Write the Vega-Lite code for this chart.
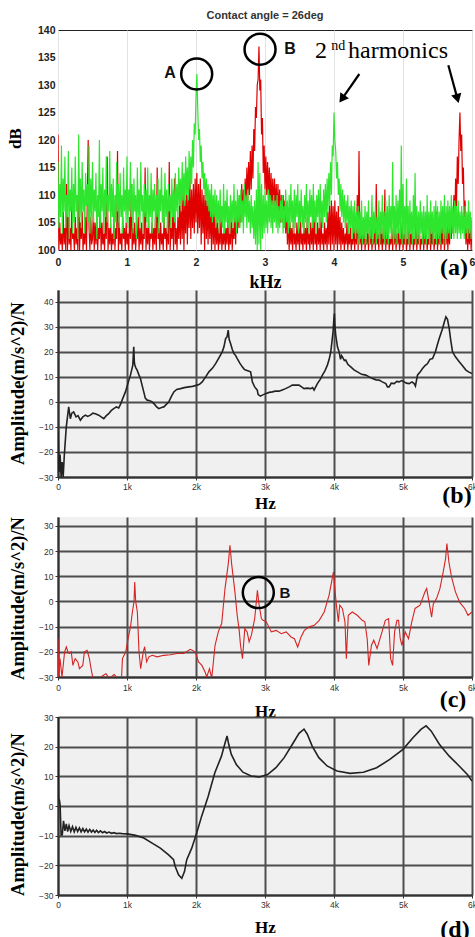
{
"$schema":"https://vega.github.io/schema/vega-lite/v6.json",
"background":"white",
"padding":{"left":5,"top":9,"right":0,"bottom":0},
"bounds":"flush",
"spacing":40,
"config":{"view":{"stroke":null}},
"vconcat":[
{
"width":414,"height":220,
"title":{"text":"Contact angle = 26deg","font":"Liberation Sans","fontSize":11,"fontWeight":"bold","color":"#333","baseline":"bottom","offset":-7},
"view":{"stroke":"#222","strokeWidth":1},
"encoding":{
 "x":{"field":"x","type":"quantitative","scale":{"domain":[0,6],"nice":false},"axis":{"values":[0,1,2,3,4,5,6],"format":"d","title":"kHz","titleFont":"Liberation Serif","titleFontSize":18,"titleFontWeight":"bold","titleColor":"#000","titleY":32,"titleBaseline":"middle","labelFont":"Liberation Sans","labelFontSize":10.5,"labelFontWeight":"bold","labelColor":"#222","labelPadding":7,"ticks":false,"domain":false,"grid":true,"gridColor":"#e3e3e3","labelFlush":false}},
 "y":{"field":"y","type":"quantitative","scale":{"domain":[100,140],"nice":false},"axis":{"values":[100,105,110,115,120,125,130,135,140],"title":"dB","titleFont":"Liberation Serif","titleFontSize":17,"titleFontWeight":"bold","titleColor":"#000","titleX":-43,"titleY":108,"titleAngle":270,"titleAlign":"center","titleBaseline":"middle","labelFont":"Liberation Sans","labelFontSize":10.5,"labelFontWeight":"bold","labelColor":"#222","labelPadding":3,"ticks":false,"domain":false,"grid":false}}
},
"layer":[
{"data":{"name":"spec"},"transform":[{"fold":["r"],"as":["k","y"]}],"mark":{"type":"line","color":"#e00000","strokeWidth":1.2,"clip":true},"encoding":{}},
{"data":{"name":"spec"},"transform":[{"fold":["g"],"as":["k","y"]}],"mark":{"type":"line","color":"#2fe62f","strokeWidth":1.2,"clip":true},"encoding":{}},
{"data":{"values":[{"x":2.01,"y":132},{"x":2.928,"y":136.5}]},"mark":{"type":"point","shape":"circle","filled":false,"size":960,"stroke":"#000","strokeWidth":2.5,"opacity":1},"encoding":{}},
{"data":{"values":[{"x":1.623,"y":132.2,"t":"A"},{"x":3.362,"y":136.5,"t":"B"}]},"mark":{"type":"text","font":"Liberation Sans","fontSize":16,"fontWeight":"bold","color":"#111"},"encoding":{"text":{"field":"t"}}},
{"data":{"values":[{"x":3.725,"y":134.9,"t":"2"},{"x":4.203,"y":134.9,"t":"harmonics"}]},"mark":{"type":"text","font":"Liberation Serif","fontSize":24,"align":"left","baseline":"alphabetic","color":"#000"},"encoding":{"text":{"field":"t"}}},
{"data":{"values":[{"x":3.96,"y":136.3,"t":"nd"}]},"mark":{"type":"text","font":"Liberation Serif","fontSize":14,"align":"left","baseline":"alphabetic","color":"#000"},"encoding":{"text":{"field":"t"}}},
{"data":{"values":[{"x":4.367,"y":132,"x2":4.129,"y2":127.7},{"x":5.657,"y":133.6,"x2":5.783,"y2":127.8}]},"mark":{"type":"rule","color":"#000","strokeWidth":2.2},"encoding":{"x2":{"field":"x2"},"y2":{"field":"y2"}}},
{"data":{"values":[{"x":4.129,"y":127.7}]},"mark":{"type":"point","shape":"triangle","filled":true,"color":"#000","size":110,"angle":215,"opacity":1},"encoding":{}},
{"data":{"values":[{"x":5.783,"y":127.8}]},"mark":{"type":"point","shape":"triangle","filled":true,"color":"#000","size":110,"angle":165,"opacity":1},"encoding":{}},
{"data":{"values":[{"x":5.739,"y":96.7,"t":"(a)"}]},"mark":{"type":"text","font":"Liberation Serif","fontSize":24,"fontWeight":"bold","color":"#000"},"encoding":{"text":{"field":"t"}}}
]
},
{
"width":414,"height":187,
"view":{"fill":"#f0f0f0","stroke":null},
"encoding":{
 "x":{"field":"x","type":"quantitative","scale":{"domain":[0,6000],"nice":false},"axis":{"values":[0,1000,2000,3000,4000,5000,6000],"labelExpr":"datum.value == 0 ? '0' : datum.value/1000 + 'k'","title":"Hz","titleFont":"Liberation Serif","titleFontSize":17,"titleFontWeight":"bold","titleColor":"#000","titleY":26,"titleBaseline":"middle","labelFont":"Liberation Sans","labelFontSize":8.5,"labelColor":"#333","labelPadding":2,"tickSize":3,"tickColor":"#333","domainColor":"#333","domainWidth":2,"grid":true,"gridColor":"#4d4d4d","gridWidth":2,"labelFlush":false}},
 "y":{"field":"y","type":"quantitative","scale":{"domain":[-30,44.7],"nice":false},"axis":{"values":[-30,-20,-10,0,10,20,30,40],"title":"Amplitude(m/s^2)/N","titleFont":"Liberation Serif","titleFontSize":18.5,"titleFontWeight":"bold","titleColor":"#000","titleX":-41,"titleY":93,"titleAngle":270,"titleAlign":"center","titleBaseline":"middle","labelFont":"Liberation Sans","labelFontSize":8.5,"labelColor":"#333","labelPadding":2,"tickSize":3,"tickColor":"#333","domainColor":"#333","domainWidth":2,"grid":true,"gridColor":"#4d4d4d","gridWidth":2}}
},
"layer":[
{"data":{"values":[{"x":0,"y":-12},{"x":15,"y":-28},{"x":30,"y":-21},{"x":45,"y":-30},{"x":60,"y":-24},{"x":75,"y":-30},{"x":90,"y":-22},{"x":120,"y":-10},{"x":155,"y":-2},{"x":179,"y":-6.7},{"x":200,"y":-4.5},{"x":227,"y":-4},{"x":261,"y":-6},{"x":290,"y":-5.5},{"x":324,"y":-7.3},{"x":360,"y":-6},{"x":397,"y":-5.3},{"x":430,"y":-5.8},{"x":469,"y":-5.3},{"x":505,"y":-4.5},{"x":542,"y":-4.7},{"x":590,"y":-5.3},{"x":625,"y":-6},{"x":663,"y":-6.7},{"x":700,"y":-5.5},{"x":735,"y":-4.7},{"x":770,"y":-3.5},{"x":808,"y":-2.7},{"x":845,"y":-2},{"x":880,"y":-2.4},{"x":905,"y":-1},{"x":929,"y":0.7},{"x":955,"y":2.5},{"x":977,"y":4},{"x":1015,"y":7.5},{"x":1050,"y":10.7},{"x":1070,"y":13},{"x":1084,"y":14.7},{"x":1098,"y":22},{"x":1106,"y":16},{"x":1113,"y":14.7},{"x":1130,"y":13.5},{"x":1147,"y":12.7},{"x":1170,"y":11},{"x":1195,"y":9.3},{"x":1220,"y":6.5},{"x":1243,"y":4},{"x":1265,"y":1.5},{"x":1292,"y":0.7},{"x":1330,"y":0.5},{"x":1364,"y":0},{"x":1400,"y":-1},{"x":1430,"y":-2},{"x":1461,"y":-2.7},{"x":1500,"y":-2.2},{"x":1534,"y":-2},{"x":1570,"y":-1},{"x":1606,"y":0},{"x":1640,"y":2},{"x":1679,"y":4},{"x":1720,"y":5},{"x":1776,"y":5.3},{"x":1830,"y":5.7},{"x":1896,"y":6},{"x":1950,"y":6.2},{"x":2017,"y":6.7},{"x":2050,"y":7},{"x":2090,"y":8},{"x":2140,"y":10},{"x":2187,"y":12},{"x":2240,"y":13.5},{"x":2284,"y":15.3},{"x":2330,"y":17.5},{"x":2380,"y":20},{"x":2405,"y":22},{"x":2429,"y":25.3},{"x":2450,"y":26},{"x":2467,"y":28.7},{"x":2480,"y":25},{"x":2501,"y":23.3},{"x":2525,"y":21},{"x":2550,"y":19.3},{"x":2575,"y":18.5},{"x":2598,"y":17.3},{"x":2635,"y":15.5},{"x":2671,"y":14},{"x":2700,"y":13},{"x":2719,"y":12.7},{"x":2760,"y":12.3},{"x":2791,"y":12},{"x":2805,"y":10},{"x":2816,"y":8},{"x":2850,"y":6},{"x":2888,"y":4.7},{"x":2900,"y":3},{"x":2912,"y":2.7},{"x":2935,"y":2.3},{"x":2961,"y":2.7},{"x":2985,"y":3},{"x":3009,"y":3.3},{"x":3060,"y":3.8},{"x":3106,"y":4},{"x":3150,"y":4.3},{"x":3203,"y":4.3},{"x":3250,"y":4.8},{"x":3299,"y":5.3},{"x":3350,"y":6},{"x":3396,"y":6.7},{"x":3440,"y":6.7},{"x":3493,"y":6.7},{"x":3530,"y":6},{"x":3566,"y":5.3},{"x":3610,"y":5.5},{"x":3662,"y":5.3},{"x":3690,"y":5.7},{"x":3711,"y":4.7},{"x":3735,"y":6},{"x":3759,"y":7.3},{"x":3800,"y":9},{"x":3832,"y":10.7},{"x":3870,"y":12.5},{"x":3904,"y":14.7},{"x":3930,"y":17},{"x":3953,"y":20},{"x":3970,"y":24},{"x":3986,"y":28},{"x":3998,"y":33},{"x":4006,"y":35.3},{"x":4012,"y":31},{"x":4025,"y":26.7},{"x":4050,"y":22},{"x":4074,"y":20},{"x":4095,"y":17},{"x":4110,"y":18.5},{"x":4122,"y":18},{"x":4150,"y":16.5},{"x":4170,"y":16.7},{"x":4200,"y":15},{"x":4243,"y":14},{"x":4290,"y":12.8},{"x":4340,"y":12},{"x":4400,"y":11},{"x":4461,"y":10.7},{"x":4510,"y":10},{"x":4557,"y":9.3},{"x":4610,"y":8.8},{"x":4654,"y":8.7},{"x":4700,"y":8},{"x":4751,"y":7.3},{"x":4775,"y":6},{"x":4799,"y":6},{"x":4830,"y":7.5},{"x":4872,"y":7.3},{"x":4910,"y":8.2},{"x":4944,"y":8},{"x":4980,"y":8.5},{"x":5017,"y":8},{"x":5050,"y":7.5},{"x":5090,"y":7.3},{"x":5130,"y":8},{"x":5162,"y":7.3},{"x":5180,"y":6.3},{"x":5210,"y":10.7},{"x":5250,"y":12},{"x":5283,"y":13.3},{"x":5320,"y":14.5},{"x":5356,"y":15.3},{"x":5390,"y":17},{"x":5428,"y":17.3},{"x":5470,"y":20},{"x":5500,"y":23},{"x":5525,"y":25.3},{"x":5570,"y":29},{"x":5600,"y":32},{"x":5622,"y":34},{"x":5645,"y":33},{"x":5670,"y":29.3},{"x":5690,"y":25},{"x":5718,"y":20},{"x":5760,"y":18},{"x":5815,"y":16},{"x":5860,"y":14.5},{"x":5912,"y":12.7},{"x":5950,"y":12},{"x":6000,"y":11.3}]},"mark":{"type":"line","color":"#222","strokeWidth":1.6,"clip":true},"encoding":{}},
{"data":{"values":[{"x":5783,"y":-37.7,"t":"(b)"}]},"mark":{"type":"text","font":"Liberation Serif","fontSize":24,"fontWeight":"bold","color":"#000"},"encoding":{"text":{"field":"t"}}}
]
},
{
"width":414,"height":160,
"view":{"fill":"#f0f0f0","stroke":null},
"encoding":{
 "x":{"field":"x","type":"quantitative","scale":{"domain":[0,6000],"nice":false},"axis":{"values":[0,1000,2000,3000,4000,5000,6000],"labelExpr":"datum.value == 0 ? '0' : datum.value/1000 + 'k'","title":"Hz","titleFont":"Liberation Serif","titleFontSize":17,"titleFontWeight":"bold","titleColor":"#000","titleY":34,"titleBaseline":"middle","labelFont":"Liberation Sans","labelFontSize":8.5,"labelColor":"#333","labelPadding":3,"tickSize":3,"tickColor":"#333","domainColor":"#333","domainWidth":2,"grid":true,"gridColor":"#4d4d4d","gridWidth":2,"labelFlush":false}},
 "y":{"field":"y","type":"quantitative","scale":{"domain":[-30,33.5],"nice":false},"axis":{"values":[-30,-20,-10,0,10,20,30],"title":"Amplitude(m/s^2)/N","titleFont":"Liberation Serif","titleFontSize":18.5,"titleFontWeight":"bold","titleColor":"#000","titleX":-41,"titleY":81,"titleAngle":270,"titleAlign":"center","titleBaseline":"middle","labelFont":"Liberation Sans","labelFontSize":8.5,"labelColor":"#333","labelPadding":2,"tickSize":3,"tickColor":"#333","domainColor":"#333","domainWidth":2,"grid":true,"gridColor":"#4d4d4d","gridWidth":2}}
},
"layer":[
{"data":{"values":[{"x":0,"y":-14.8},{"x":10,"y":-30},{"x":29,"y":-22.7},{"x":58,"y":-30},{"x":96,"y":-20},{"x":120,"y":-18.1},{"x":144,"y":-20},{"x":168,"y":-20.7},{"x":192,"y":-20},{"x":216,"y":-25.4},{"x":249,"y":-22.7},{"x":288,"y":-24},{"x":311,"y":-26.7},{"x":359,"y":-25.4},{"x":383,"y":-20},{"x":422,"y":-19.4},{"x":455,"y":-22.7},{"x":479,"y":-26.7},{"x":503,"y":-30},{"x":575,"y":-31},{"x":647,"y":-29.5},{"x":695,"y":-28.7},{"x":743,"y":-30.5},{"x":815,"y":-29},{"x":863,"y":-30.5},{"x":920,"y":-31},{"x":934,"y":-22.7},{"x":982,"y":-20},{"x":1016,"y":-14.8},{"x":1054,"y":-9.5},{"x":1078,"y":-4.2},{"x":1102,"y":0},{"x":1112,"y":7.7},{"x":1126,"y":0},{"x":1150,"y":-4.2},{"x":1174,"y":-20},{"x":1198,"y":-26.7},{"x":1236,"y":-20},{"x":1256,"y":-18},{"x":1284,"y":-24},{"x":1318,"y":-22},{"x":1366,"y":-21.4},{"x":1438,"y":-22},{"x":1533,"y":-21.4},{"x":1629,"y":-21.2},{"x":1725,"y":-20.7},{"x":1821,"y":-20.7},{"x":1917,"y":-19},{"x":1989,"y":-20},{"x":2037,"y":-24},{"x":2085,"y":-25.4},{"x":2132,"y":-28},{"x":2156,"y":-30},{"x":2195,"y":-26.7},{"x":2228,"y":-30.5},{"x":2276,"y":-17.4},{"x":2324,"y":-12},{"x":2372,"y":-8.8},{"x":2420,"y":5},{"x":2468,"y":15},{"x":2492,"y":22.3},{"x":2516,"y":15},{"x":2564,"y":3.8},{"x":2597,"y":-5.5},{"x":2626,"y":-11.5},{"x":2645,"y":-17.4},{"x":2674,"y":-22.7},{"x":2707,"y":-10.8},{"x":2741,"y":-12.1},{"x":2770,"y":-16.1},{"x":2803,"y":-13.4},{"x":2851,"y":-6.8},{"x":2875,"y":0},{"x":2890,"y":4.4},{"x":2913,"y":-1},{"x":2947,"y":-6.8},{"x":2971,"y":-7.5},{"x":3019,"y":-8.1},{"x":3091,"y":-12.1},{"x":3163,"y":-11.5},{"x":3235,"y":-12.8},{"x":3307,"y":-12.1},{"x":3378,"y":-14.1},{"x":3426,"y":-14.8},{"x":3474,"y":-18.1},{"x":3522,"y":-14.1},{"x":3570,"y":-11.5},{"x":3642,"y":-10.1},{"x":3714,"y":-9.5},{"x":3786,"y":-7.5},{"x":3858,"y":-4.2},{"x":3929,"y":2.5},{"x":3992,"y":11.7},{"x":4016,"y":3.8},{"x":4035,"y":-1.5},{"x":4064,"y":-8.1},{"x":4083,"y":-1.5},{"x":4121,"y":-2.8},{"x":4159,"y":-8.1},{"x":4179,"y":-22.7},{"x":4207,"y":-5.5},{"x":4265,"y":-4.2},{"x":4337,"y":-5.5},{"x":4409,"y":-7.5},{"x":4447,"y":-8.1},{"x":4481,"y":-14.8},{"x":4504,"y":-25.4},{"x":4543,"y":-17.4},{"x":4576,"y":-15.4},{"x":4624,"y":-18.7},{"x":4696,"y":-12.1},{"x":4744,"y":-7.5},{"x":4792,"y":-6.8},{"x":4821,"y":-22.7},{"x":4849,"y":-25.4},{"x":4878,"y":-12.1},{"x":4912,"y":-7.5},{"x":4936,"y":-7.5},{"x":4960,"y":-14.8},{"x":4984,"y":-17.4},{"x":5032,"y":-12.1},{"x":5080,"y":-14.8},{"x":5127,"y":-8.1},{"x":5175,"y":-2.8},{"x":5247,"y":-1.5},{"x":5319,"y":3.8},{"x":5343,"y":5.1},{"x":5382,"y":-1},{"x":5415,"y":-6.2},{"x":5439,"y":-1},{"x":5487,"y":1.2},{"x":5535,"y":5.1},{"x":5583,"y":11.7},{"x":5617,"y":17},{"x":5636,"y":23},{"x":5665,"y":15.7},{"x":5703,"y":9.7},{"x":5760,"y":3.8},{"x":5822,"y":-0.4},{"x":5894,"y":-2.8},{"x":5942,"y":-5.5},{"x":6000,"y":-4.2}]},"mark":{"type":"line","color":"#d42424","strokeWidth":1.1,"clip":true},"encoding":{}},
{"data":{"values":[{"x":2903,"y":3.5}]},"mark":{"type":"point","shape":"circle","filled":false,"size":961,"stroke":"#000","strokeWidth":2.5,"opacity":1},"encoding":{}},
{"data":{"values":[{"x":3290,"y":3.5,"t":"B"}]},"mark":{"type":"text","font":"Liberation Sans","fontSize":15,"fontWeight":"bold","color":"#111"},"encoding":{"text":{"field":"t"}}},
{"data":{"values":[{"x":5725,"y":-39.2,"t":"(c)"}]},"mark":{"type":"text","font":"Liberation Serif","fontSize":24,"fontWeight":"bold","color":"#000"},"encoding":{"text":{"field":"t"}}}
]
},
{
"width":414,"height":178,
"view":{"fill":"#f0f0f0","stroke":null},
"encoding":{
 "x":{"field":"x","type":"quantitative","scale":{"domain":[0,6000],"nice":false},"axis":{"values":[0,1000,2000,3000,4000,5000,6000],"labelExpr":"datum.value == 0 ? '0' : datum.value/1000 + 'k'","title":"Hz","titleFont":"Liberation Serif","titleFontSize":17,"titleFontWeight":"bold","titleColor":"#000","titleY":32,"titleBaseline":"middle","labelFont":"Liberation Sans","labelFontSize":8.5,"labelColor":"#333","labelPadding":2,"tickSize":3,"tickColor":"#333","domainColor":"#333","domainWidth":2,"grid":true,"gridColor":"#4d4d4d","gridWidth":2,"labelFlush":false}},
 "y":{"field":"y","type":"quantitative","scale":{"domain":[-30,30],"nice":false},"axis":{"values":[-30,-20,-10,0,10,20,30],"title":"Amplitude(m/s^2)/N","titleFont":"Liberation Serif","titleFontSize":18.5,"titleFontWeight":"bold","titleColor":"#000","titleX":-41,"titleY":97,"titleAngle":270,"titleAlign":"center","titleBaseline":"middle","labelFont":"Liberation Sans","labelFontSize":8.5,"labelColor":"#333","labelPadding":2,"tickSize":3,"tickColor":"#333","domainColor":"#333","domainWidth":2,"grid":true,"gridColor":"#4d4d4d","gridWidth":2}}
},
"layer":[
{"data":{"values":[{"x":0,"y":30},{"x":3,"y":10},{"x":8,"y":2.5},{"x":20,"y":2},{"x":30,"y":0.5},{"x":45,"y":-9.8},{"x":62,"y":-9.7},{"x":80,"y":-5},{"x":100,"y":-8.4},{"x":120,"y":-6},{"x":140,"y":-8.6},{"x":160,"y":-6.6},{"x":185,"y":-8.6},{"x":210,"y":-7},{"x":235,"y":-8.7},{"x":260,"y":-7.2},{"x":285,"y":-8.6},{"x":310,"y":-7.4},{"x":335,"y":-8.7},{"x":360,"y":-7.6},{"x":385,"y":-8.7},{"x":410,"y":-7.8},{"x":435,"y":-8.8},{"x":460,"y":-7.9},{"x":485,"y":-8.8},{"x":510,"y":-8.1},{"x":535,"y":-8.9},{"x":560,"y":-8.2},{"x":585,"y":-9},{"x":615,"y":-8.4},{"x":645,"y":-9},{"x":675,"y":-8.6},{"x":705,"y":-9.1},{"x":740,"y":-8.8},{"x":775,"y":-9.2},{"x":810,"y":-9},{"x":850,"y":-9.3},{"x":890,"y":-9.2},{"x":930,"y":-9.3},{"x":1005,"y":-9.4},{"x":1124,"y":-9.9},{"x":1244,"y":-10.8},{"x":1364,"y":-12.5},{"x":1483,"y":-14.2},{"x":1603,"y":-16.5},{"x":1675,"y":-18.1},{"x":1699,"y":-20.4},{"x":1747,"y":-23.2},{"x":1794,"y":-24.4},{"x":1833,"y":-22.1},{"x":1866,"y":-18.1},{"x":1938,"y":-14.2},{"x":2010,"y":-9.1},{"x":2081,"y":-3.5},{"x":2177,"y":3.3},{"x":2273,"y":11.2},{"x":2369,"y":16.8},{"x":2416,"y":20.8},{"x":2450,"y":23.6},{"x":2474,"y":20.8},{"x":2512,"y":17.4},{"x":2584,"y":14},{"x":2680,"y":11.4},{"x":2799,"y":10.1},{"x":2919,"y":9.8},{"x":3038,"y":10.6},{"x":3158,"y":12.9},{"x":3278,"y":16.3},{"x":3397,"y":20.8},{"x":3493,"y":24.5},{"x":3565,"y":25.9},{"x":3613,"y":24.2},{"x":3684,"y":20.2},{"x":3780,"y":16.3},{"x":3900,"y":13.5},{"x":4043,"y":11.8},{"x":4235,"y":11},{"x":4426,"y":11.4},{"x":4618,"y":12.9},{"x":4809,"y":15.7},{"x":5000,"y":19.1},{"x":5144,"y":23},{"x":5264,"y":25.9},{"x":5335,"y":27},{"x":5407,"y":25.3},{"x":5527,"y":20.8},{"x":5670,"y":16.8},{"x":5814,"y":13.5},{"x":5933,"y":10.6},{"x":6000,"y":8.4}]},"mark":{"type":"line","color":"#222","strokeWidth":1.6,"clip":true},"encoding":{}},
{"data":{"values":[{"x":5754,"y":-41.8,"t":"(d)"}]},"mark":{"type":"text","font":"Liberation Serif","fontSize":24,"fontWeight":"bold","color":"#000"},"encoding":{"text":{"field":"t"}}}
]
}
],
"datasets":{"spec":[
{"x":0,"r":121,"g":116},{"x":0.0125,"r":100,"g":104},{"x":0.025,"r":105,"g":112},{"x":0.0375,"r":101,"g":106},{"x":0.05,"r":103,"g":119},{"x":0.0625,"r":100,"g":103},{"x":0.075,"r":107,"g":113},{"x":0.0875,"r":101,"g":107},
{"x":0.1,"r":104,"g":117},{"x":0.1125,"r":100,"g":104},{"x":0.125,"r":112,"g":110},{"x":0.1375,"r":100,"g":106},{"x":0.15,"r":106,"g":118},{"x":0.1625,"r":101,"g":102},{"x":0.175,"r":104,"g":111},{"x":0.1875,"r":100,"g":107},
{"x":0.2,"r":108,"g":115},{"x":0.2125,"r":102,"g":103},{"x":0.225,"r":103,"g":112},{"x":0.2375,"r":100,"g":105},{"x":0.25,"r":106,"g":117},{"x":0.2625,"r":101,"g":107},{"x":0.275,"r":104,"g":110},{"x":0.2875,"r":100,"g":102},
{"x":0.3,"r":113,"g":121},{"x":0.3125,"r":100,"g":106},{"x":0.325,"r":105,"g":113},{"x":0.3375,"r":102,"g":104},{"x":0.35,"r":107,"g":116},{"x":0.3625,"r":100,"g":107},{"x":0.375,"r":103,"g":111},{"x":0.3875,"r":101,"g":103},
{"x":0.4,"r":106,"g":114},{"x":0.4125,"r":100,"g":108},{"x":0.425,"r":109,"g":112},{"x":0.4375,"r":120,"g":105},{"x":0.45,"r":104,"g":119},{"x":0.4625,"r":100,"g":103},{"x":0.475,"r":106,"g":113},{"x":0.4875,"r":101,"g":106},
{"x":0.5,"r":102,"g":116},{"x":0.5125,"r":107,"g":105},{"x":0.525,"r":100,"g":111},{"x":0.5375,"r":105,"g":107},{"x":0.55,"r":101,"g":114},{"x":0.5625,"r":106,"g":102},{"x":0.575,"r":100,"g":110},{"x":0.5875,"r":104,"g":106},
{"x":0.6,"r":102,"g":120},{"x":0.6125,"r":108,"g":104},{"x":0.625,"r":100,"g":112},{"x":0.6375,"r":105,"g":107},{"x":0.65,"r":101,"g":115},{"x":0.6625,"r":103,"g":103},{"x":0.675,"r":100,"g":111},{"x":0.6875,"r":106,"g":106},
{"x":0.7,"r":102,"g":117},{"x":0.7125,"r":117,"g":105},{"x":0.725,"r":100,"g":110},{"x":0.7375,"r":104,"g":107},{"x":0.75,"r":101,"g":118},{"x":0.7625,"r":105,"g":104},{"x":0.775,"r":100,"g":112},{"x":0.7875,"r":103,"g":106},
{"x":0.8,"r":101,"g":113},{"x":0.8125,"r":107,"g":102},{"x":0.825,"r":100,"g":110},{"x":0.8375,"r":104,"g":105},{"x":0.85,"r":102,"g":116},{"x":0.8625,"r":118,"g":107},{"x":0.875,"r":100,"g":112},{"x":0.8875,"r":105,"g":104},
{"x":0.9,"r":101,"g":114},{"x":0.9125,"r":103,"g":106},{"x":0.925,"r":100,"g":110},{"x":0.9375,"r":106,"g":103},{"x":0.95,"r":102,"g":115},{"x":0.9625,"r":104,"g":107},{"x":0.975,"r":100,"g":111},{"x":0.9875,"r":105,"g":105},
{"x":1,"r":101,"g":117},{"x":1.0125,"r":103,"g":104},{"x":1.025,"r":100,"g":111},{"x":1.0375,"r":106,"g":107},{"x":1.05,"r":102,"g":116},{"x":1.0625,"r":112,"g":106},{"x":1.075,"r":100,"g":112},{"x":1.0875,"r":104,"g":103},
{"x":1.1,"r":101,"g":113},{"x":1.1125,"r":105,"g":107},{"x":1.125,"r":100,"g":110},{"x":1.1375,"r":103,"g":102},{"x":1.15,"r":102,"g":115},{"x":1.1625,"r":106,"g":106},{"x":1.175,"r":100,"g":111},{"x":1.1875,"r":104,"g":104},
{"x":1.2,"r":101,"g":116},{"x":1.2125,"r":105,"g":107},{"x":1.225,"r":100,"g":110},{"x":1.2375,"r":103,"g":103},{"x":1.25,"r":102,"g":112},{"x":1.2625,"r":115,"g":106},{"x":1.275,"r":100,"g":111},{"x":1.2875,"r":104,"g":105},
{"x":1.3,"r":101,"g":115},{"x":1.3125,"r":106,"g":104},{"x":1.325,"r":100,"g":110},{"x":1.3375,"r":103,"g":106},{"x":1.35,"r":102,"g":114},{"x":1.3625,"r":105,"g":103},{"x":1.375,"r":100,"g":111},{"x":1.3875,"r":104,"g":107},
{"x":1.4,"r":101,"g":112},{"x":1.4125,"r":106,"g":104},{"x":1.425,"r":100,"g":110},{"x":1.4375,"r":115,"g":106},{"x":1.45,"r":102,"g":113},{"x":1.4625,"r":104,"g":103},{"x":1.475,"r":100,"g":111},{"x":1.4875,"r":105,"g":107},
{"x":1.5,"r":101,"g":115},{"x":1.5125,"r":103,"g":105},{"x":1.525,"r":100,"g":110},{"x":1.5375,"r":106,"g":104},{"x":1.55,"r":102,"g":114},{"x":1.5625,"r":104,"g":106},{"x":1.575,"r":100,"g":111},{"x":1.5875,"r":105,"g":103},
{"x":1.6,"r":101,"g":112},{"x":1.6125,"r":116,"g":107},{"x":1.625,"r":100,"g":110},{"x":1.6375,"r":104,"g":104},{"x":1.65,"r":102,"g":113},{"x":1.6625,"r":106,"g":106},{"x":1.675,"r":100,"g":111},{"x":1.6875,"r":113,"g":105},
{"x":1.7,"r":101,"g":114},{"x":1.7125,"r":104,"g":107},{"x":1.725,"r":100,"g":112},{"x":1.7375,"r":106,"g":106},{"x":1.75,"r":102,"g":115},{"x":1.7625,"r":108,"g":108},{"x":1.775,"r":101,"g":113},{"x":1.7875,"r":110,"g":107},
{"x":1.8,"r":102,"g":116},{"x":1.8125,"r":111,"g":109},{"x":1.825,"r":100,"g":114},{"x":1.8375,"r":109,"g":108},{"x":1.85,"r":103,"g":117},{"x":1.8625,"r":112,"g":110},{"x":1.875,"r":101,"g":115},{"x":1.8875,"r":110,"g":109},
{"x":1.9,"r":104,"g":118},{"x":1.9125,"r":113,"g":111},{"x":1.925,"r":102,"g":117},{"x":1.9375,"r":111,"g":112},{"x":1.95,"r":104,"g":120},{"x":1.9625,"r":112,"g":115},{"x":1.975,"r":103,"g":123},{"x":1.9875,"r":113,"g":121},
{"x":2,"r":105,"g":128},{"x":2.0125,"r":114,"g":132},{"x":2.025,"r":103,"g":126},{"x":2.0375,"r":112,"g":120},{"x":2.05,"r":104,"g":122},{"x":2.0625,"r":113,"g":116},{"x":2.075,"r":101,"g":119},{"x":2.0875,"r":111,"g":113},
{"x":2.1,"r":103,"g":116},{"x":2.1125,"r":110,"g":111},{"x":2.125,"r":100,"g":114},{"x":2.1375,"r":112,"g":109},{"x":2.15,"r":102,"g":113},{"x":2.1625,"r":109,"g":108},{"x":2.175,"r":101,"g":112},{"x":2.1875,"r":110,"g":107},
{"x":2.2,"r":102,"g":111},{"x":2.2125,"r":108,"g":106},{"x":2.225,"r":100,"g":112},{"x":2.2375,"r":109,"g":105},{"x":2.25,"r":101,"g":110},{"x":2.2625,"r":107,"g":106},{"x":2.275,"r":100,"g":111},{"x":2.2875,"r":106,"g":104},
{"x":2.3,"r":101,"g":110},{"x":2.3125,"r":105,"g":105},{"x":2.325,"r":100,"g":109},{"x":2.3375,"r":104,"g":103},{"x":2.35,"r":101,"g":111},{"x":2.3625,"r":106,"g":105},{"x":2.375,"r":100,"g":108},{"x":2.3875,"r":103,"g":104},
{"x":2.4,"r":101,"g":112},{"x":2.4125,"r":105,"g":103},{"x":2.425,"r":100,"g":109},{"x":2.4375,"r":104,"g":105},{"x":2.45,"r":101,"g":111},{"x":2.4625,"r":106,"g":104},{"x":2.475,"r":100,"g":108},{"x":2.4875,"r":103,"g":103},
{"x":2.5,"r":101,"g":110},{"x":2.5125,"r":107,"g":105},{"x":2.525,"r":100,"g":109},{"x":2.5375,"r":104,"g":104},{"x":2.55,"r":102,"g":112},{"x":2.5625,"r":106,"g":105},{"x":2.575,"r":101,"g":109},{"x":2.5875,"r":108,"g":103},
{"x":2.6,"r":103,"g":111},{"x":2.6125,"r":109,"g":105},{"x":2.625,"r":104,"g":110},{"x":2.6375,"r":110,"g":104},{"x":2.65,"r":105,"g":111},{"x":2.6625,"r":112,"g":105},{"x":2.675,"r":106,"g":109},{"x":2.6875,"r":111,"g":103},
{"x":2.7,"r":107,"g":112},{"x":2.7125,"r":113,"g":106},{"x":2.725,"r":108,"g":110},{"x":2.7375,"r":115,"g":104},{"x":2.75,"r":109,"g":111},{"x":2.7625,"r":116,"g":105},{"x":2.775,"r":110,"g":109},{"x":2.7875,"r":118,"g":103},
{"x":2.8,"r":111,"g":110},{"x":2.8125,"r":119,"g":104},{"x":2.825,"r":113,"g":108},{"x":2.8375,"r":122,"g":102},{"x":2.85,"r":118,"g":109},{"x":2.8625,"r":126,"g":101},{"x":2.875,"r":124,"g":111},{"x":2.8875,"r":130,"g":100},
{"x":2.9,"r":131,"g":116},{"x":2.9125,"r":137,"g":101},{"x":2.925,"r":129,"g":114},{"x":2.9375,"r":131,"g":100},{"x":2.95,"r":121,"g":112},{"x":2.9625,"r":124,"g":102},{"x":2.975,"r":114,"g":110},{"x":2.9875,"r":119,"g":103},
{"x":3,"r":111,"g":111},{"x":3.0125,"r":117,"g":104},{"x":3.025,"r":110,"g":109},{"x":3.0375,"r":116,"g":103},{"x":3.05,"r":109,"g":111},{"x":3.0625,"r":115,"g":105},{"x":3.075,"r":108,"g":110},{"x":3.0875,"r":114,"g":104},
{"x":3.1,"r":108,"g":109},{"x":3.1125,"r":113,"g":103},{"x":3.125,"r":107,"g":110},{"x":3.1375,"r":113,"g":105},{"x":3.15,"r":107,"g":109},{"x":3.1625,"r":112,"g":104},{"x":3.175,"r":106,"g":110},{"x":3.1875,"r":112,"g":103},
{"x":3.2,"r":106,"g":108},{"x":3.2125,"r":111,"g":104},{"x":3.225,"r":105,"g":109},{"x":3.2375,"r":110,"g":105},{"x":3.25,"r":105,"g":110},{"x":3.2625,"r":110,"g":103},{"x":3.275,"r":104,"g":108},{"x":3.2875,"r":109,"g":104},
{"x":3.3,"r":103,"g":111},{"x":3.3125,"r":108,"g":105},{"x":3.325,"r":101,"g":109},{"x":3.3375,"r":106,"g":103},{"x":3.35,"r":100,"g":110},{"x":3.3625,"r":105,"g":104},{"x":3.375,"r":101,"g":112},{"x":3.3875,"r":104,"g":105},
{"x":3.4,"r":100,"g":109},{"x":3.4125,"r":106,"g":103},{"x":3.425,"r":101,"g":111},{"x":3.4375,"r":103,"g":104},{"x":3.45,"r":100,"g":110},{"x":3.4625,"r":105,"g":106},{"x":3.475,"r":101,"g":112},{"x":3.4875,"r":104,"g":103},
{"x":3.5,"r":100,"g":109},{"x":3.5125,"r":106,"g":105},{"x":3.525,"r":101,"g":111},{"x":3.5375,"r":103,"g":104},{"x":3.55,"r":100,"g":108},{"x":3.5625,"r":105,"g":103},{"x":3.575,"r":101,"g":110},{"x":3.5875,"r":104,"g":105},
{"x":3.6,"r":100,"g":112},{"x":3.6125,"r":106,"g":104},{"x":3.625,"r":101,"g":109},{"x":3.6375,"r":103,"g":103},{"x":3.65,"r":100,"g":111},{"x":3.6625,"r":105,"g":106},{"x":3.675,"r":101,"g":110},{"x":3.6875,"r":104,"g":104},
{"x":3.7,"r":100,"g":112},{"x":3.7125,"r":107,"g":105},{"x":3.725,"r":101,"g":109},{"x":3.7375,"r":103,"g":103},{"x":3.75,"r":100,"g":110},{"x":3.7625,"r":105,"g":106},{"x":3.775,"r":101,"g":111},{"x":3.7875,"r":104,"g":104},
{"x":3.8,"r":100,"g":112},{"x":3.8125,"r":106,"g":105},{"x":3.825,"r":101,"g":109},{"x":3.8375,"r":103,"g":104},{"x":3.85,"r":100,"g":111},{"x":3.8625,"r":105,"g":106},{"x":3.875,"r":101,"g":112},{"x":3.8875,"r":104,"g":105},
{"x":3.9,"r":100,"g":113},{"x":3.9125,"r":107,"g":107},{"x":3.925,"r":101,"g":114},{"x":3.9375,"r":108,"g":108},{"x":3.95,"r":100,"g":116},{"x":3.9625,"r":109,"g":110},{"x":3.975,"r":101,"g":119},{"x":3.9875,"r":108,"g":117},
{"x":4,"r":100,"g":125},{"x":4.0125,"r":109,"g":120},{"x":4.025,"r":101,"g":118},{"x":4.0375,"r":107,"g":113},{"x":4.05,"r":100,"g":116},{"x":4.0625,"r":108,"g":110},{"x":4.075,"r":101,"g":113},{"x":4.0875,"r":106,"g":107},
{"x":4.1,"r":100,"g":112},{"x":4.1125,"r":105,"g":106},{"x":4.125,"r":101,"g":111},{"x":4.1375,"r":104,"g":105},{"x":4.15,"r":100,"g":110},{"x":4.1625,"r":103,"g":104},{"x":4.175,"r":101,"g":109},{"x":4.1875,"r":105,"g":105},
{"x":4.2,"r":100,"g":110},{"x":4.2125,"r":103,"g":103},{"x":4.225,"r":101,"g":108},{"x":4.2375,"r":104,"g":104},{"x":4.25,"r":100,"g":109},{"x":4.2625,"r":102,"g":102},{"x":4.275,"r":101,"g":108},{"x":4.2875,"r":105,"g":103},
{"x":4.3,"r":100,"g":109},{"x":4.3125,"r":104,"g":102},{"x":4.325,"r":101,"g":107},{"x":4.3375,"r":110,"g":103},{"x":4.35,"r":100,"g":108},{"x":4.3625,"r":118,"g":101},{"x":4.375,"r":101,"g":107},{"x":4.3875,"r":104,"g":102},
{"x":4.4,"r":100,"g":109},{"x":4.4125,"r":103,"g":101},{"x":4.425,"r":101,"g":106},{"x":4.4375,"r":105,"g":102},{"x":4.45,"r":100,"g":108},{"x":4.4625,"r":102,"g":101},{"x":4.475,"r":101,"g":107},{"x":4.4875,"r":104,"g":103},
{"x":4.5,"r":100,"g":109},{"x":4.5125,"r":103,"g":101},{"x":4.525,"r":101,"g":106},{"x":4.5375,"r":105,"g":102},{"x":4.55,"r":100,"g":110},{"x":4.5625,"r":102,"g":101},{"x":4.575,"r":101,"g":107},{"x":4.5875,"r":104,"g":103},
{"x":4.6,"r":100,"g":108},{"x":4.6125,"r":112,"g":101},{"x":4.625,"r":101,"g":106},{"x":4.6375,"r":103,"g":102},{"x":4.65,"r":100,"g":109},{"x":4.6625,"r":105,"g":101},{"x":4.675,"r":101,"g":107},{"x":4.6875,"r":103,"g":103},
{"x":4.7,"r":100,"g":110},{"x":4.7125,"r":104,"g":102},{"x":4.725,"r":101,"g":107},{"x":4.7375,"r":111,"g":101},{"x":4.75,"r":100,"g":109},{"x":4.7625,"r":103,"g":102},{"x":4.775,"r":101,"g":108},{"x":4.7875,"r":104,"g":101},
{"x":4.8,"r":100,"g":110},{"x":4.8125,"r":102,"g":103},{"x":4.825,"r":101,"g":108},{"x":4.8375,"r":104,"g":102},{"x":4.85,"r":100,"g":116},{"x":4.8625,"r":103,"g":101},{"x":4.875,"r":101,"g":108},{"x":4.8875,"r":105,"g":102},
{"x":4.9,"r":100,"g":110},{"x":4.9125,"r":103,"g":101},{"x":4.925,"r":101,"g":109},{"x":4.9375,"r":104,"g":103},{"x":4.95,"r":100,"g":111},{"x":4.9625,"r":102,"g":102},{"x":4.975,"r":101,"g":119},{"x":4.9875,"r":105,"g":101},
{"x":5,"r":100,"g":112},{"x":5.0125,"r":103,"g":102},{"x":5.025,"r":101,"g":108},{"x":5.0375,"r":104,"g":101},{"x":5.05,"r":100,"g":113},{"x":5.0625,"r":102,"g":102},{"x":5.075,"r":101,"g":108},{"x":5.0875,"r":105,"g":101},
{"x":5.1,"r":100,"g":109},{"x":5.1125,"r":103,"g":103},{"x":5.125,"r":101,"g":107},{"x":5.1375,"r":104,"g":101},{"x":5.15,"r":100,"g":110},{"x":5.1625,"r":102,"g":102},{"x":5.175,"r":101,"g":114},{"x":5.1875,"r":105,"g":101},
{"x":5.2,"r":100,"g":108},{"x":5.2125,"r":103,"g":102},{"x":5.225,"r":101,"g":107},{"x":5.2375,"r":104,"g":101},{"x":5.25,"r":100,"g":109},{"x":5.2625,"r":102,"g":103},{"x":5.275,"r":101,"g":107},{"x":5.2875,"r":105,"g":101},
{"x":5.3,"r":100,"g":108},{"x":5.3125,"r":103,"g":102},{"x":5.325,"r":101,"g":107},{"x":5.3375,"r":104,"g":101},{"x":5.35,"r":100,"g":110},{"x":5.3625,"r":102,"g":102},{"x":5.375,"r":101,"g":107},{"x":5.3875,"r":106,"g":101},
{"x":5.4,"r":100,"g":109},{"x":5.4125,"r":103,"g":103},{"x":5.425,"r":101,"g":107},{"x":5.4375,"r":105,"g":101},{"x":5.45,"r":100,"g":108},{"x":5.4625,"r":102,"g":102},{"x":5.475,"r":101,"g":109},{"x":5.4875,"r":107,"g":101},
{"x":5.5,"r":100,"g":108},{"x":5.5125,"r":103,"g":102},{"x":5.525,"r":101,"g":107},{"x":5.5375,"r":106,"g":101},{"x":5.55,"r":100,"g":109},{"x":5.5625,"r":104,"g":103},{"x":5.575,"r":101,"g":108},{"x":5.5875,"r":107,"g":102},
{"x":5.6,"r":100,"g":110},{"x":5.6125,"r":103,"g":101},{"x":5.625,"r":101,"g":108},{"x":5.6375,"r":106,"g":102},{"x":5.65,"r":100,"g":109},{"x":5.6625,"r":104,"g":103},{"x":5.675,"r":101,"g":108},{"x":5.6875,"r":106,"g":102},
{"x":5.7,"r":102,"g":110},{"x":5.7125,"r":107,"g":103},{"x":5.725,"r":103,"g":108},{"x":5.7375,"r":110,"g":102},{"x":5.75,"r":105,"g":109},{"x":5.7625,"r":113,"g":103},{"x":5.775,"r":108,"g":108},{"x":5.7875,"r":117,"g":102},
{"x":5.8,"r":112,"g":109},{"x":5.8125,"r":120,"g":103},{"x":5.825,"r":125,"g":107},{"x":5.8375,"r":118,"g":102},{"x":5.85,"r":121,"g":108},{"x":5.8625,"r":112,"g":103},{"x":5.875,"r":115,"g":107},{"x":5.8875,"r":106,"g":102},
{"x":5.9,"r":109,"g":108},{"x":5.9125,"r":101,"g":103},{"x":5.925,"r":105,"g":107},{"x":5.9375,"r":100,"g":102},{"x":5.95,"r":104,"g":109},{"x":5.9625,"r":101,"g":103},{"x":5.975,"r":105,"g":107},{"x":5.9875,"r":100,"g":102},
{"x":6,"r":104,"g":106}
]}
}
